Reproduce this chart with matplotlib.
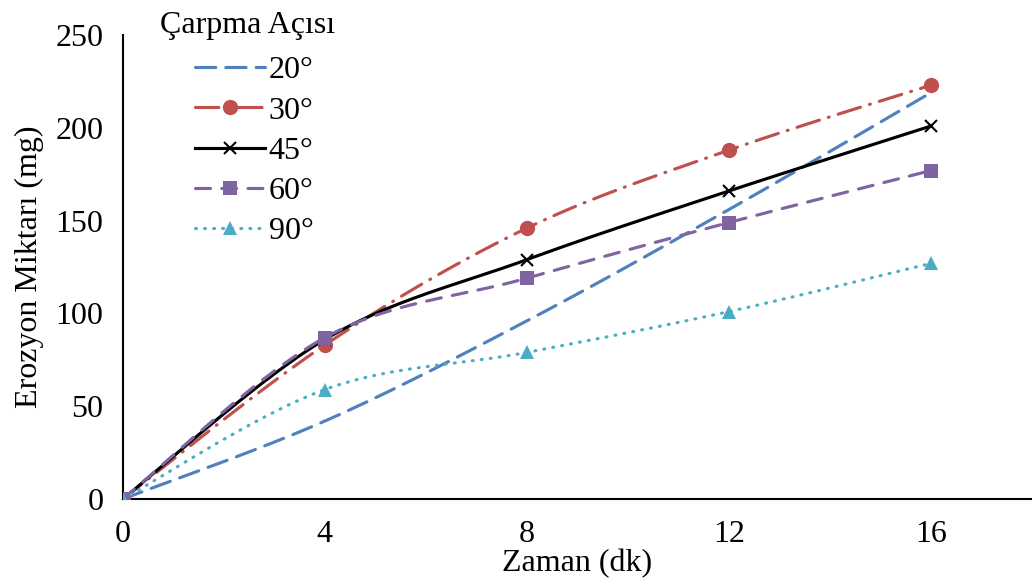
import numpy as np
import matplotlib
matplotlib.use("Agg")
import matplotlib.pyplot as plt

# Data: erosion amount (mg) vs. time (min) for each impact angle
zaman = [0, 4, 8, 12, 16]
aci_20 = [0, 42, 96, 156, 219]
aci_30 = [0, 83, 146, 188, 223]
aci_45 = [0, 86, 129, 166, 201]
aci_60 = [0, 87, 119, 149, 177]
aci_90 = [0, 59, 79, 101, 127]
etiketler = ["20°", "30°", "45°", "60°", "90°"]
x_ticks = [0, 4, 8, 12, 16]
y_ticks = [0, 50, 100, 150, 200, 250]

plt.rcParams["font.family"] = ["Liberation Serif", "DejaVu Serif"]
FS = 23


def smooth(xs, ys, n=40):
    """Catmull-Rom style cubic Bezier smoothing through the points."""
    p = np.column_stack([xs, ys]).astype(float)
    ext = np.vstack([p[0], p, p[-1]])
    out = []
    t = np.linspace(0, 1, n)[:, None]
    for i in range(len(p) - 1):
        p0, p1, p2, p3 = ext[i], ext[i + 1], ext[i + 2], ext[i + 3]
        c1 = p1 + (p2 - p0) / 6.0
        c2 = p2 - (p3 - p1) / 6.0
        seg = ((1 - t) ** 3) * p1 + 3 * ((1 - t) ** 2) * t * c1 + 3 * (1 - t) * t ** 2 * c2 + t ** 3 * p2
        out.append(seg if i == 0 else seg[1:])
    s = np.vstack(out)
    return s[:, 0], s[:, 1]


fig = plt.figure(figsize=(10.32, 5.85), dpi=100)
ax = fig.add_axes([0.119, 0.147, 0.881, 0.793])

lw = 2.25
styles = [
    dict(color="#4F81BD", dashes=(6.5, 3.2), marker=None, ms=0),
    dict(color="#C0504D", dashes=(7.5, 3.0, 0.3, 3.0), marker="o", ms=11),
    dict(color="#000000", dashes=None, marker="x", ms=9),
    dict(color="#8064A2", dashes=(4.8, 3.6), marker="s", ms=10),
    dict(color="#4BACC6", dashes=(0.3, 2.6), marker="^", ms=10),
]
series = [aci_20, aci_30, aci_45, aci_60, aci_90]

handles = []
for ys, lab, st in zip(series, etiketler, styles):
    sx, sy = smooth(zaman, ys)
    line, = ax.plot(sx, sy, color=st["color"], lw=lw, solid_capstyle="round",
                    dash_capstyle="round", zorder=2)
    if st["dashes"] is not None:
        line.set_dashes(st["dashes"])
    mew = 1.5 if st["marker"] == "x" else 0
    if st["marker"] is not None:
        ax.plot(zaman, ys, linestyle="none", marker=st["marker"], ms=st["ms"],
                color=st["color"], mec=st["color"], mew=mew, zorder=3)
    # legend proxy combining line and marker
    proxy, = ax.plot([], [], color=st["color"], lw=lw, marker=st["marker"],
                     ms=st["ms"], mew=mew, dash_capstyle="round", label=lab)
    if st["dashes"] is not None:
        proxy.set_dashes(st["dashes"])
    handles.append(proxy)

ax.set_xlim(0, 18)
ax.set_ylim(0, 250)
ax.set_xticks(x_ticks)
ax.set_yticks(y_ticks)
ax.tick_params(axis="both", length=0, labelsize=FS)
ax.tick_params(axis="y", pad=14)
ax.tick_params(axis="x", pad=15)
for s in ["top", "right"]:
    ax.spines[s].set_visible(False)
for s in ["left", "bottom"]:
    ax.spines[s].set_linewidth(1.5)

ax.set_xlabel("Zaman (dk)", fontsize=FS, labelpad=0)
ax.set_ylabel("Erozyon Miktarı (mg)", fontsize=FS, labelpad=8)

# legend title sits left of the indented entries
fig.text(0.155, 0.957, "Çarpma Açısı", fontsize=FS, ha="left", va="center")
leg = ax.legend(handles, etiketler, loc="upper left", frameon=False,
                fontsize=FS, handlelength=2.2, handletextpad=0.12,
                labelspacing=0.34, borderpad=0, borderaxespad=0,
                bbox_to_anchor=(0.079, 0.955))

fig.savefig("out.png", dpi=100)
